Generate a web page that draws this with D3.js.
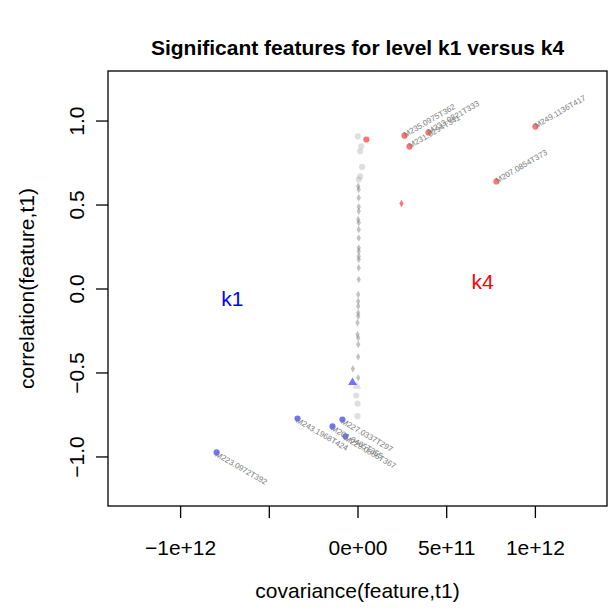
<!DOCTYPE html>
<html><head><meta charset="utf-8">
<script src="https://cdn.jsdelivr.net/npm/d3@7"></script>
<style>body{margin:0;background:#fff}svg{display:block}text{font-family:"Liberation Sans",Arial,sans-serif}</style>
</head><body><div id="c"></div>
<script>
// k4 (red) features
const k4Names = ["", "M235.0975T362", "M231.0294T341", "M233.0821T333", "M249.1136T417", "M207.0854T373", ""];
const k4Cov = [0.05e12, 0.265e12, 0.293e12, 0.40e12, 1.003e12, 0.783e12, 0.248e12];
const k4Corr = [0.887, 0.91, 0.845, 0.929, 0.964, 0.637, 0.506];
const k4Shape = ["circle","circle","circle","circle","circle","circle","diamond"];
// k1 (blue) features
const k1Names = ["M223.0972T392", "M243.1968T424", "M201.0405T355", "M227.0337T297", "M229.0886T367", ""];
const k1Cov = [-0.794e12, -0.338e12, -0.141e12, -0.085e12, -0.068e12, -0.028e12];
const k1Corr = [-0.976, -0.774, -0.821, -0.78, -0.88, -0.56];
const k1Shape = ["circle","circle","circle","circle","circle","triangle"];
// non-significant (grey) features
const greyCov = [0.002e12,0.021e12,0.015e12,0.026e12,0.015e12,0.007e12,0.004e12,0.007e12,0.007e12,0.007e12,0.007e12,0.004e12,0.007e12,0.007e12,0.007e12,0.007e12,0.007e12,0.007e12,0.007e12,0.007e12,0.007e12,0.004e12,0.004e12,0.004e12,0.004e12,0.004e12,0.0,0.0,0.004e12,0.004e12,0.004e12,-0.026e12,0.004e12,-0.004e12,-0.007e12,0.0,0.0];
const greyCorr = [0.906,0.847,0.817,0.724,0.668,0.649,0.609,0.589,0.540,0.486,0.460,0.411,0.391,0.351,0.301,0.242,0.222,0.192,0.173,0.123,0.054,-0.036,-0.076,-0.105,-0.145,-0.165,-0.204,-0.274,-0.294,-0.333,-0.407,-0.478,-0.532,-0.582,-0.637,-0.685,-0.760];
const greyShape = ["circle","circle","circle","circle","circle","circle","diamond","diamond","diamond","diamond","diamond","diamond","diamond","diamond","diamond","diamond","diamond","diamond","diamond","diamond","diamond","diamond","diamond","diamond","diamond","diamond","diamond","diamond","diamond","diamond","diamond","diamond","diamond","triangle","circle","circle","circle"];
const xTicks = [-1e12, -5e11, 0, 5e11, 1e12];
const xTickLabels = ["\u22121e+12", "", "0e+00", "5e+11", "1e+12"];
const yTicks = [-1.0, -0.5, 0.0, 0.5, 1.0];
const yTickLabels = ["\u22121.0", "\u22120.5", "0.0", "0.5", "1.0"];

const W = 609, H = 610;
const L = 108, R = 607, T = 71, B = 506;
const FONT = 21;
const svg = d3.select("#c").append("svg").attr("width", W).attr("height", H);
const x = d3.scaleLinear().domain([-1.4065e12, 1.4065e12]).range([L, R]);
const y = d3.scaleLinear().domain([-1.295, 1.295]).range([B, T]);

const sym = {circle: d3.symbolCircle, diamond: d3.symbolDiamond, triangle: d3.symbolTriangle};
const size = {circle: 30, diamond: 16, triangle: 34};

function draw(cov, corr, shape, fill) {
  svg.append("g").selectAll("path").data(cov.map((c, i) => [c, corr[i], shape[i]])).join("path")
    .attr("d", d => d3.symbol().type(sym[d[2]]).size(size[d[2]])())
    .attr("transform", d => `translate(${x(d[0])},${y(d[1])})`)
    .attr("fill", d => typeof fill === "function" ? fill(d[2]) : fill);
}
draw(greyCov, greyCorr, greyShape, s => s === "diamond" ? "rgba(110,110,110,0.42)" : "rgba(150,150,150,0.3)");
draw(k4Cov, k4Corr, k4Shape, "rgba(255,0,0,0.55)");
draw(k1Cov, k1Corr, k1Shape, "rgba(0,0,255,0.55)");

// labels
function labels(names, cov, corr, angle, dy) {
  svg.append("g").selectAll("text").data(names.map((n, i) => [n, cov[i], corr[i]]).filter(d => d[0])).join("text")
    .attr("transform", d => `translate(${x(d[1])},${y(d[2])}) rotate(${angle})`)
    .attr("dy", dy).attr("font-size", 8).attr("fill", "#7a7a7a").text(d => d[0]);
}
labels(k4Names, k4Cov, k4Corr, -30, 2);
labels(k1Names, k1Cov, k1Corr, 30, 4);

// box
svg.append("rect").attr("x", L).attr("y", T).attr("width", R - L).attr("height", B - T)
  .attr("fill", "none").attr("stroke", "#000").attr("stroke-width", 1.3);

// x axis
const xa = svg.append("g").attr("transform", `translate(0,${B})`)
  .call(d3.axisBottom(x).tickValues(xTicks).tickSize(12).tickFormat((d, i) => xTickLabels[i]));
xa.select(".domain").attr("stroke", "none");
xa.selectAll(".tick line").attr("stroke-width", 1.3);
xa.selectAll("text").attr("font-size", FONT).attr("fill", "#000").attr("y", 0).attr("dy", 0)
  .attr("transform", "translate(0,49)").attr("font-family", "Liberation Sans, Arial, sans-serif");

// y axis
const ya = svg.append("g").attr("transform", `translate(${L},0)`)
  .call(d3.axisLeft(y).tickValues(yTicks).tickSize(12).tickFormat((d, i) => yTickLabels[i]));
ya.select(".domain").attr("stroke", "none");
ya.selectAll(".tick line").attr("stroke-width", 1.3);
ya.selectAll("text").attr("font-size", FONT).attr("fill", "#000").attr("font-family", "Liberation Sans, Arial, sans-serif")
  .attr("text-anchor", "middle").attr("x", 0).attr("dy", 0)
  .attr("transform", "translate(-24,0) rotate(-90)");

// group labels
svg.append("text").attr("x", x(-0.705e12)).attr("y", y(-0.06) + 7.5).attr("text-anchor", "middle")
  .attr("font-size", FONT).attr("fill", "#0000ff").text("k1");
svg.append("text").attr("x", x(0.705e12)).attr("y", y(0.04) + 7.5).attr("text-anchor", "middle")
  .attr("font-size", FONT).attr("fill", "#ff0000").text("k4");

// titles
svg.append("text").attr("x", (L + R) / 2).attr("y", 55).attr("text-anchor", "middle")
  .attr("font-size", FONT).attr("font-weight", "bold").text("Significant features for level k1 versus k4");
svg.append("text").attr("x", (L + R) / 2).attr("y", 598).attr("text-anchor", "middle")
  .attr("font-size", FONT).text("covariance(feature,t1)");
svg.append("text").attr("transform", `translate(34,${(T + B) / 2}) rotate(-90)`).attr("text-anchor", "middle")
  .attr("font-size", FONT).text("correlation(feature,t1)");
</script></body></html>
